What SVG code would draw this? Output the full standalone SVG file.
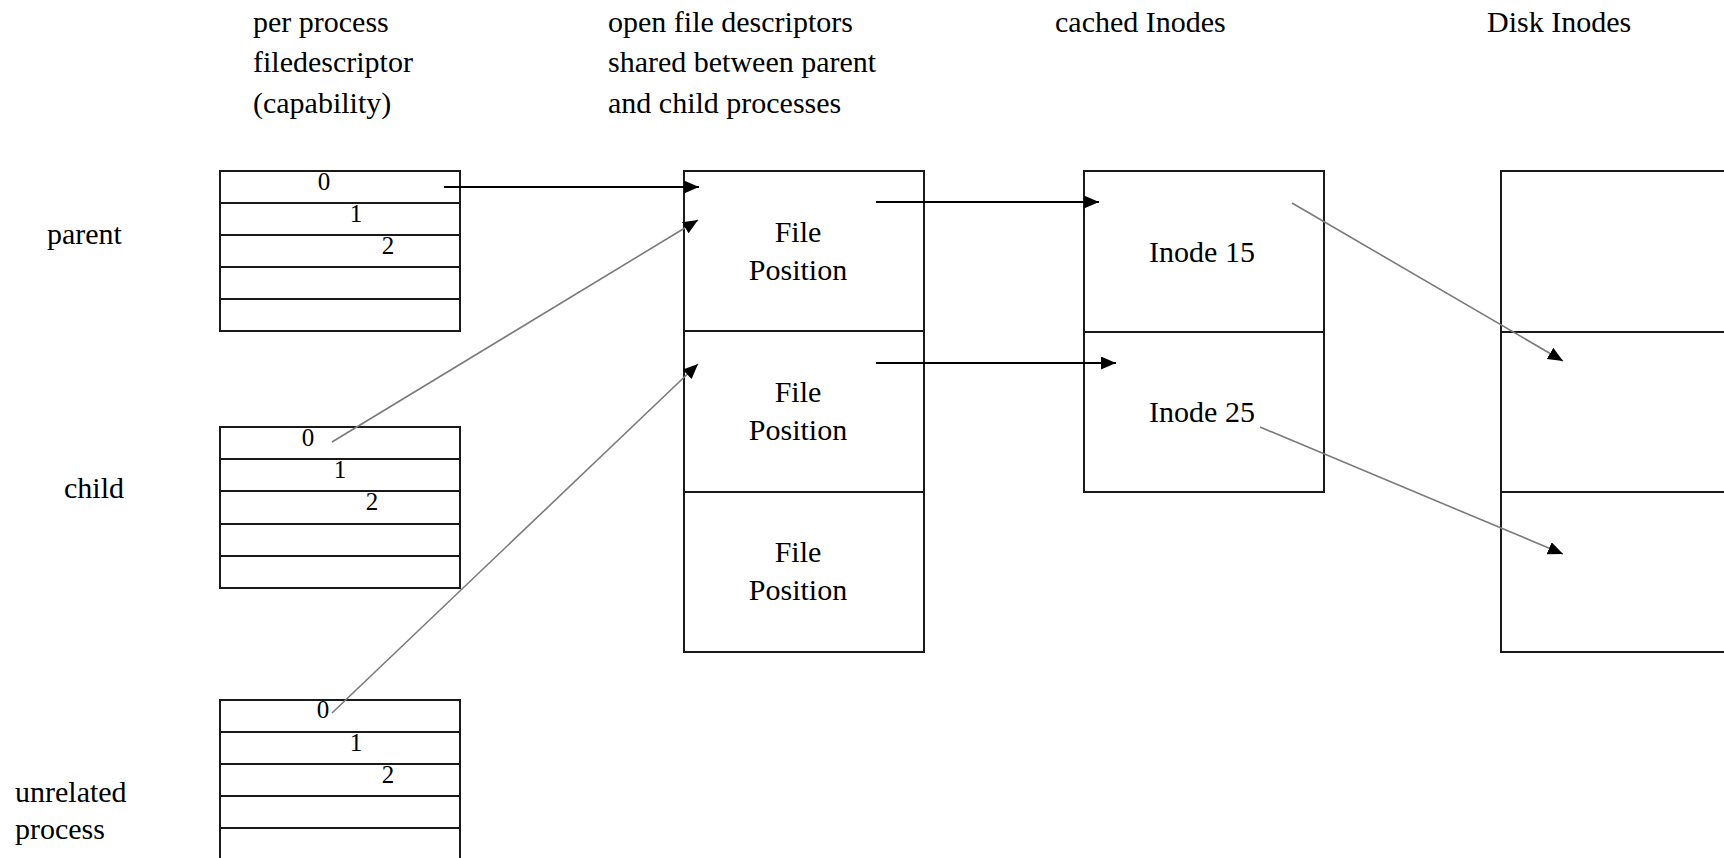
<svg xmlns="http://www.w3.org/2000/svg" width="1724" height="858" viewBox="0 0 1724 858">
  <style>
    .box { fill: #ffffff; stroke: #1a1a1a; stroke-width: 2; }
    .sep { stroke: #1a1a1a; stroke-width: 2; fill: none; }
    .txt { font-family: "Liberation Serif", "Times New Roman", serif; font-size: 30px; fill: #000000; }
    .mid { text-anchor: middle; }
    .dig { font-family: "Liberation Serif", "Times New Roman", serif; font-size: 25px; fill: #000000; text-anchor: middle; }
    .solid { stroke: #000000; stroke-width: 1.8; fill: none; }
    .grey { stroke: #7a7a7a; stroke-width: 1.6; fill: none; }
  </style>
  <defs>
    <marker id="head" markerUnits="userSpaceOnUse" markerWidth="16" markerHeight="14" refX="15" refY="6.5" orient="auto">
      <path d="M0,0 L15,6.5 L0,13 Z" fill="#000000"/>
    </marker>
  </defs>
  <rect width="1724" height="858" fill="#ffffff"/>

  <!-- column headings -->
  <g id="headings">
    <text class="txt" x="253" y="32">per process</text>
    <text class="txt" x="253" y="72">filedescriptor</text>
    <text class="txt" x="253" y="113">(capability)</text>
    <text class="txt" x="608" y="32">open file descriptors</text>
    <text class="txt" x="608" y="72">shared between parent</text>
    <text class="txt" x="608" y="113">and child processes</text>
    <text class="txt" x="1055" y="32">cached Inodes</text>
    <text class="txt" x="1487" y="32">Disk Inodes</text>
  </g>

  <!-- row labels -->
  <g id="labels">
    <text class="txt" x="47" y="244">parent</text>
    <text class="txt" x="64" y="498">child</text>
    <text class="txt" x="15" y="802">unrelated</text>
    <text class="txt" x="15" y="839">process</text>
  </g>

  <!-- per-process descriptor table: parent -->
  <g id="fd-parent">
    <rect class="box" x="220" y="171" width="240" height="160"/>
    <path class="sep" d="M220,203 H460 M220,235 H460 M220,267 H460 M220,299 H460"/>
    <text class="dig" x="324" y="190">0</text>
    <text class="dig" x="356" y="222">1</text>
    <text class="dig" x="388" y="254">2</text>
  </g>

  <!-- per-process descriptor table: child -->
  <g id="fd-child">
    <rect class="box" x="220" y="427" width="240" height="161"/>
    <path class="sep" d="M220,459 H460 M220,491 H460 M220,524 H460 M220,556 H460"/>
    <text class="dig" x="308" y="446">0</text>
    <text class="dig" x="340" y="478">1</text>
    <text class="dig" x="372" y="510">2</text>
  </g>

  <!-- per-process descriptor table: unrelated process (runs off the bottom) -->
  <g id="fd-unrelated">
    <path class="sep" d="M220,870 V700 H460 V870"/>
    <path class="sep" d="M220,732 H460 M220,764 H460 M220,796 H460 M220,828 H460"/>
    <text class="dig" x="323" y="718">0</text>
    <text class="dig" x="356" y="751">1</text>
    <text class="dig" x="388" y="783">2</text>
  </g>

  <!-- shared open file table -->
  <g id="open-files">
    <rect class="box" x="684" y="171" width="240" height="481"/>
    <path class="sep" d="M684,331 H924 M684,492 H924"/>
    <text class="txt mid" x="798" y="242">File</text>
    <text class="txt mid" x="798" y="280">Position</text>
    <text class="txt mid" x="798" y="402">File</text>
    <text class="txt mid" x="798" y="440">Position</text>
    <text class="txt mid" x="798" y="562">File</text>
    <text class="txt mid" x="798" y="600">Position</text>
  </g>

  <!-- in-memory inode cache -->
  <g id="cached-inodes">
    <rect class="box" x="1084" y="171" width="240" height="321"/>
    <path class="sep" d="M1084,332 H1324"/>
    <text class="txt mid" x="1202" y="262">Inode 15</text>
    <text class="txt mid" x="1202" y="422">Inode 25</text>
  </g>

  <!-- on-disk inodes (runs off the right edge) -->
  <g id="disk-inodes">
    <rect class="box" x="1501" y="171" width="240" height="481"/>
    <path class="sep" d="M1501,332 H1741 M1501,492 H1741"/>
  </g>

  <!-- pointers between the tables -->
  <g id="connectors">
    <line class="solid" x1="444" y1="187" x2="699" y2="187" marker-end="url(#head)"/>
    <line class="grey" x1="332" y1="442" x2="698" y2="220" marker-end="url(#head)"/>
    <line class="grey" x1="332" y1="713" x2="698" y2="364" marker-end="url(#head)"/>
    <line class="solid" x1="876" y1="202" x2="1099" y2="202" marker-end="url(#head)"/>
    <line class="solid" x1="876" y1="363" x2="1116" y2="363" marker-end="url(#head)"/>
    <line class="grey" x1="1292" y1="203" x2="1563" y2="361" marker-end="url(#head)"/>
    <line class="grey" x1="1260" y1="427" x2="1563" y2="554" marker-end="url(#head)"/>
  </g>
</svg>
